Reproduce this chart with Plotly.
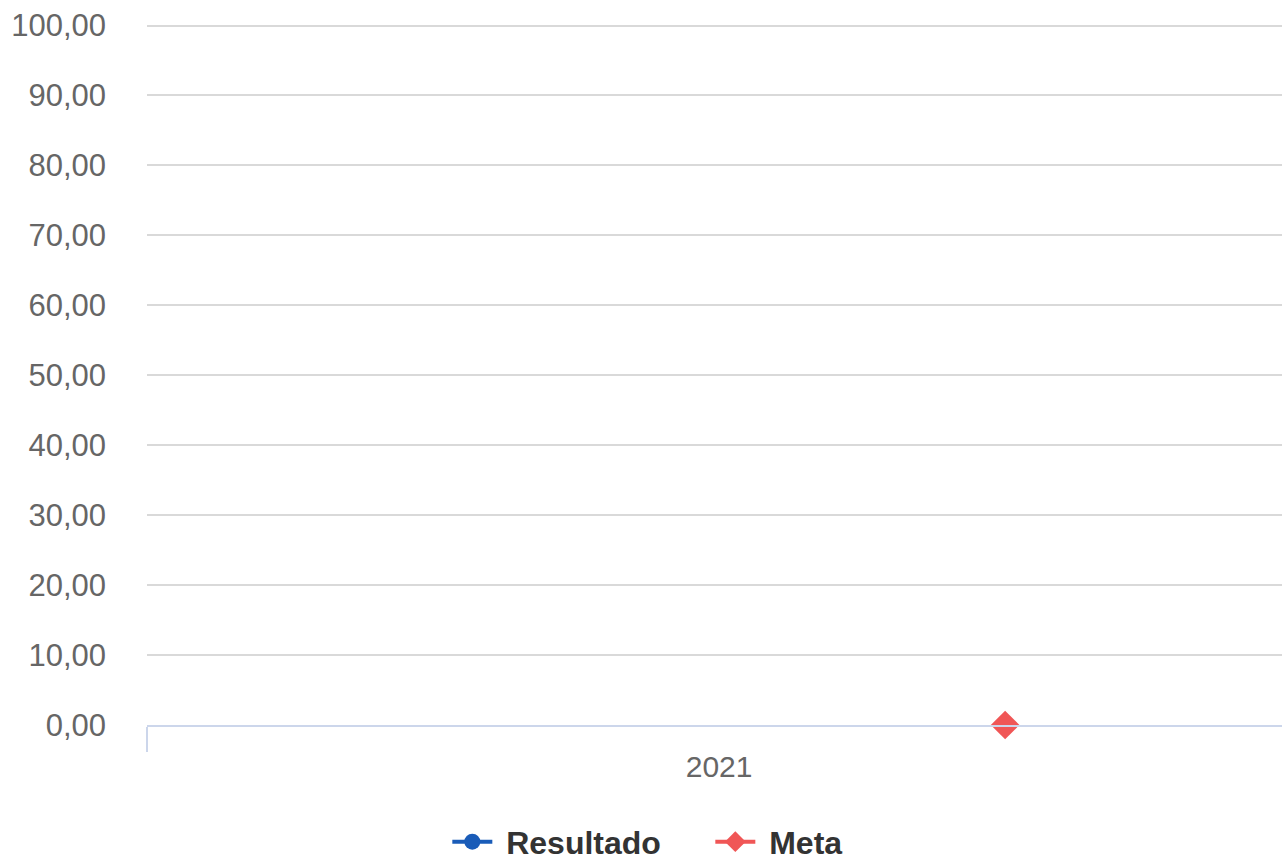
import plotly.graph_objects as go

categories = ["2021"]
resultado = [None]
meta = [0]
y_ticks = [0, 10, 20, 30, 40, 50, 60, 70, 80, 90, 100]
series_names = ["\u00a0Resultado", "\u00a0Meta"]

FONT = "Liberation Sans, Arial, sans-serif"

fig = go.Figure()
fig.add_trace(go.Scatter(
    x=categories, y=resultado, name=series_names[0], mode="lines+markers",
    line=dict(color="#1a5cb8", width=4),
    marker=dict(symbol="circle", size=20, color="#1a5cb8"),
    offsetgroup="resultado", cliponaxis=False,
))
fig.add_trace(go.Scatter(
    x=categories, y=meta, name=series_names[1], mode="lines+markers",
    line=dict(color="#f05656", width=4),
    marker=dict(symbol="diamond", size=22, color="#f05656"),
    offsetgroup="meta", cliponaxis=False,
))

fig.update_layout(
    width=1282, height=867,
    margin=dict(l=147, r=0, t=22, b=142),
    paper_bgcolor="white", plot_bgcolor="white",
    separators=",.",
    scattermode="group", scattergap=0,
    showlegend=True,
    legend=dict(
        orientation="h", x=0.2646, xanchor="left",
        yref="container", y=0.029, yanchor="middle",
        font=dict(family=FONT, size=32, color="#333333", weight="bold"),
        itemwidth=40, entrywidth=208, tracegroupgap=0,
    ),
    xaxis=dict(
        type="category", range=[-0.5, 0.492], tickson="boundaries",
        ticks="outside", ticklen=25, tickwidth=2, tickcolor="#ccd6eb",
        showline=True, linecolor="#ccd6eb", linewidth=2,
        showgrid=False, zeroline=False, automargin=False,
        ticklabelstandoff=14,
        tickfont=dict(family=FONT, size=30, color="#666666"),
    ),
    yaxis=dict(
        range=[0, 100.5], tickmode="array", tickvals=y_ticks,
        tickformat=".2f", automargin=False,
        showgrid=True, gridcolor="#d9d9d9", gridwidth=2,
        zeroline=False, showline=False, ticks="",
        ticklabelstandoff=40,
        tickfont=dict(family=FONT, size=31, color="#666666"),
    ),
)

fig.write_html(
    "out.html",
    config={"displayModeBar": False},
    post_script="document.body.style.margin='0';document.body.style.overflow='hidden';",
)
